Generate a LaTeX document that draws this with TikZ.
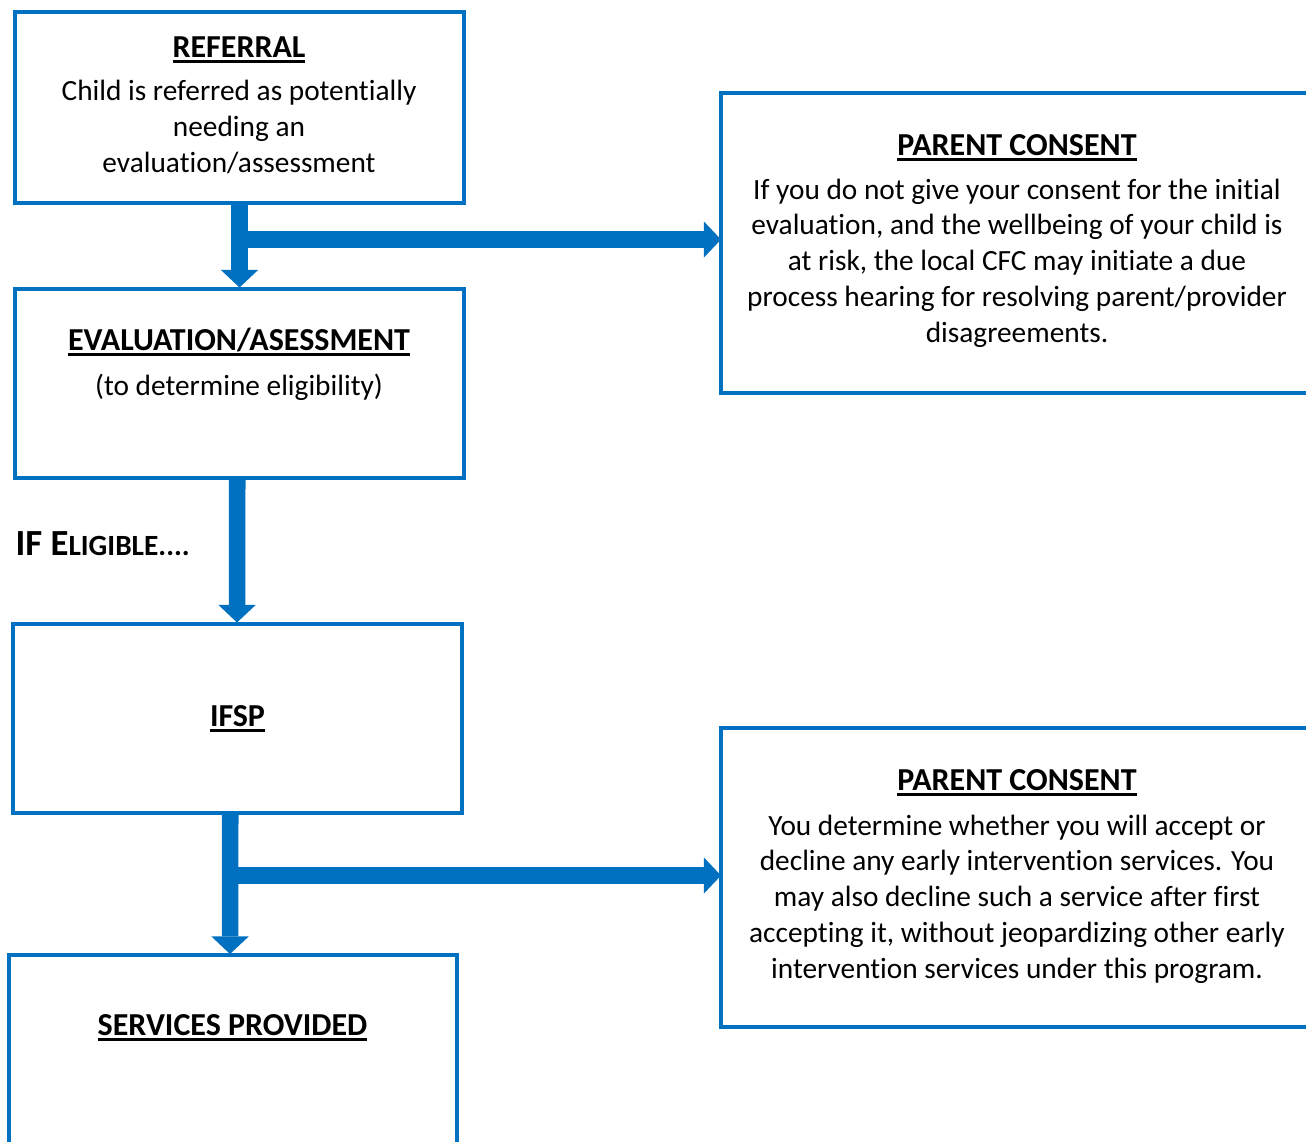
\documentclass[tikz,border=0pt]{standalone}
\usepackage{fontspec}
\setmainfont{Carlito}[Ligatures={NoCommon}]
\usetikzlibrary{arrows.meta,calc,fit}
\definecolor{ublue}{RGB}{0,112,192}
\newcommand\myul[1]{\setbox0\hbox{#1}\rlap{\rule[-2.2pt]{\wd0}{1pt}}\box0}
\begin{document}
\begin{tikzpicture}[x=0.375pt,y=-0.375pt,
  box/.style={draw=ublue,line width=1.5pt,inner sep=0pt,outer sep=0pt},
  ttl/.style={anchor=base,inner sep=0pt,font=\fontsize{12}{14}\selectfont\bfseries},
  body/.style={anchor=base,inner sep=0pt,font=\fontsize{11}{13.5}\selectfont},
  varrow/.style={draw=ublue,line width=6.2pt,-{Triangle[width=14pt,length=6.6pt,line width=0pt]}},
  harrow/.style={draw=ublue,line width=6.6pt,-{Triangle[width=13.5pt,length=6.4pt,line width=0pt]}}]
\useasboundingbox (0,0) rectangle (1306,1141);
\clip (0,0) rectangle (1306,1141);
% boxes
\node[box,fit={(14.5,12) (464,202.5)}] (ref) {};
\node[box,fit={(14.5,288.5) (464,477.5)}] (ev) {};
\node[box,fit={(12.5,623.5) (462,813)}] (ifsp) {};
\node[box,fit={(9,955) (457,1200)}] (serv) {};
\node[box,fit={(721,93) (1330,393)}] (pc1) {};
\node[box,fit={(721,728) (1330,1027)}] (pc2) {};
% texts
\node[ttl] (reft) at (239,57) {\myul{REFERRAL}};
\foreach \l [count=\i from 0] in {Child is referred as potentially, needing an, evaluation/assessment}
  \node[body] (refl\i) at (239,{100+36*\i}) {\l};
\node[ttl] (evt) at (239,350) {\myul{EVALUATION/ASESSMENT}};
\node[body] (evl) at (239,395) {(to determine eligibility)};
\node[anchor=base west,inner sep=0pt] (elig) at (15,555)
  {\bfseries\fontsize{13.8}{16}\selectfont IF E\fontsize{11}{13}\selectfont LIGIBLE....};
\node[ttl] (ifspt) at (237.5,726) {\myul{IFSP}};
\node[ttl] (servt) at (232.5,1035) {\myul{SERVICES PROVIDED}};
\node[ttl] (pc1t) at (1017,155) {\myul{PARENT CONSENT}};
\foreach \l [count=\i from 0] in {If you do not give your consent for the initial, {evaluation, and the wellbeing of your child is}, {at risk, the local CFC may initiate a due}, process hearing for resolving parent/provider, disagreements.}
  \node[body] (pc1l\i) at (1017,{199+35.8*\i}) {\l};
\node[ttl] (pc2t) at (1017,790) {\myul{PARENT CONSENT}};
\foreach \l [count=\i from 0] in {You determine whether you will accept or, decline any early intervention services. You, may also decline such a service after first, {accepting it, without jeopardizing other early}, intervention services under this program.}
  \node[body] (pc2l\i) at (1017,{835+35.8*\i}) {\l};
% connectors
\coordinate (j1) at ($(ref.south)+(0.25,37)$);
\coordinate (j2) at ($(ifsp.south)+(-7,62.5)$);
\draw[varrow] ($(ref.south)+(0.25,-2)$) -- ($(ev.north)+(0.25,-1)$);
\draw[harrow] (j1) -- (j1 -| pc1.west);
\draw[varrow] ($(ev.south)+(-2,0)$) -- ($(ifsp.north)+(-0.25,-1)$);
\draw[varrow] ($(ifsp.south)+(-7,0)$) -- ($(serv.north)+(-3,-1)$);
\draw[harrow] (j2) -- (j2 -| pc2.west);
\end{tikzpicture}
\end{document}
